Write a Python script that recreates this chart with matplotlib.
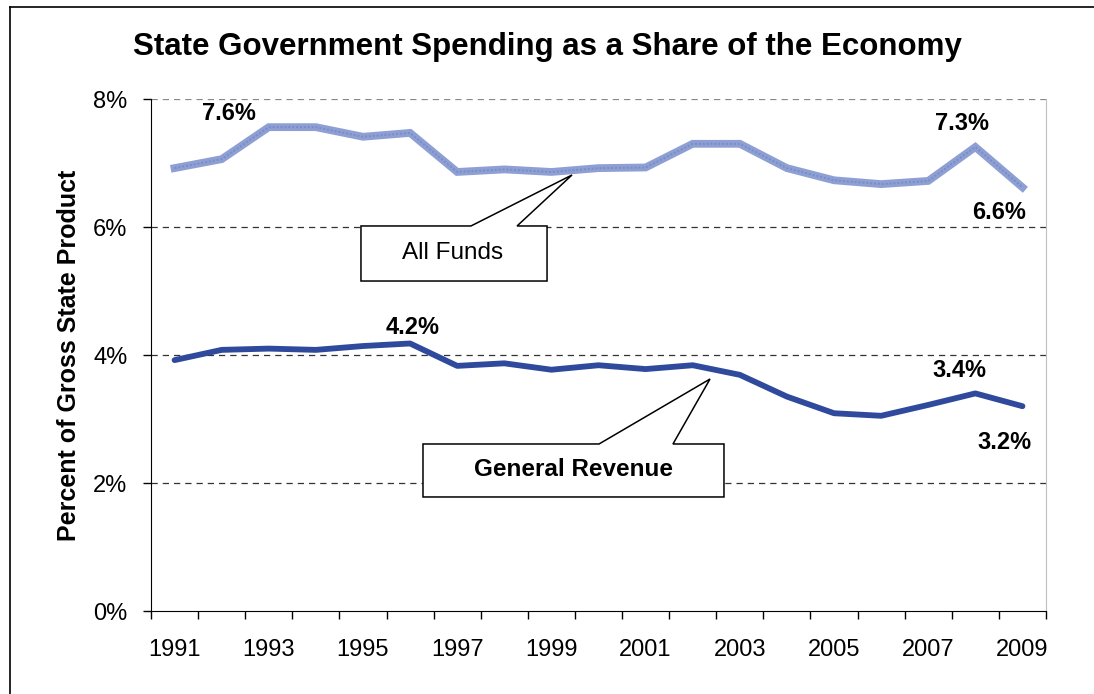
import matplotlib
matplotlib.use("Agg")
import matplotlib.pyplot as plt
from matplotlib.patches import Polygon
from matplotlib.lines import Line2D

# values (percent of gross state product)
years = list(range(1991, 2010))
all_funds = [6.92, 7.06, 7.56, 7.56, 7.41, 7.47, 6.86, 6.90, 6.86, 6.92,
             6.93, 7.30, 7.30, 6.92, 6.73, 6.67, 6.72, 7.25, 6.62]
general_rev = [3.92, 4.08, 4.10, 4.08, 4.14, 4.18, 3.83, 3.87, 3.77, 3.84,
               3.78, 3.84, 3.69, 3.35, 3.09, 3.05, 3.22, 3.40, 3.20]
y_ticks = [0, 2, 4, 6, 8]

# point labels: (series, year, text, dx px, dy px)
point_labels = [
    ("af", 1993, "7.6%", -40, 14),
    ("af", 2008, "7.3%", -13, 24),
    ("af", 2009, "6.6%", -23, -25),
    ("gr", 1996, "4.2%", 3, 16),
    ("gr", 2008, "3.4%", -16, 23),
    ("gr", 2009, "3.2%", -18, -36),
]

plt.rcParams["font.family"] = ["Liberation Sans", "DejaVu Sans"]

fig = plt.figure(figsize=(10.94, 6.94), dpi=100)
ax = fig.add_axes([151 / 1094, 83 / 694, 895 / 1094, 512 / 694])

x = list(range(len(years)))
ax.plot(x, all_funds, color="#8d9fd3", lw=5.6, solid_joinstyle="miter", zorder=3)
ax.plot(x, all_funds, color="#6b80c2", lw=1.4, ls=(0, (1, 1)), zorder=3, alpha=0.6)
ax.plot(x, general_rev, color="#2f4a9c", lw=4.2, solid_capstyle="round", zorder=3)

ax.set_xlim(-0.5, len(years) - 0.5)
ax.set_ylim(0, 8)
ax.set_yticks(y_ticks)
ax.set_yticklabels([f"{v}%" for v in y_ticks], fontsize=17)
ax.set_xticks([i - 0.5 for i in range(len(years) + 1)])
ax.set_xticklabels([])
ax.set_xticks(x, minor=True)
ax.set_xticklabels([str(y) if (y - 1991) % 2 == 0 else "" for y in years],
                   minor=True, fontsize=17)
ax.tick_params(axis="x", which="major", length=6, width=1, direction="out")
ax.tick_params(axis="x", which="minor", length=0, pad=20)
ax.tick_params(axis="y", length=6, width=1, pad=11)

for v in y_ticks[1:]:
    ax.axhline(v, color="#333333" if v < 8 else "#888888", lw=0.9,
               ls=(0, (5, 4)), zorder=1)

ax.spines["top"].set_visible(False)
ax.spines["right"].set_color("#c0c0c0")
ax.spines["left"].set_color("black")
ax.spines["bottom"].set_color("black")

ax.set_ylabel("Percent of Gross State Product", fontsize=18, fontweight="bold",
              labelpad=9)
fig.text(0.5, 0.932, "State Government Spending as a Share of the Economy",
         ha="center", va="center", fontsize=22.5, fontweight="bold")

series = {"af": all_funds, "gr": general_rev}
for key, yr, txt, dx, dy in point_labels:
    i = years.index(yr)
    ax.annotate(txt, (i, series[key][i]), xytext=(dx * 0.72, dy * 0.72),
                textcoords="offset points", ha="center", va="center",
                fontsize=17, fontweight="bold", zorder=5)


def callout(x0, x1, y0, y1, b0, b1, tip, text, weight, tx, ty):
    verts = [(x0, y0), (x0, y1), (b0, y1), tip, (b1, y1), (x1, y1), (x1, y0)]
    ax.add_patch(Polygon(verts, closed=True, transform=ax.transAxes,
                         facecolor="white", edgecolor="black", lw=1.1, zorder=4))
    ax.text(tx, ty, text, transform=ax.transAxes, ha="center", va="center",
            fontsize=17.5, fontweight=weight, zorder=5)


callout(0.2346, 0.4425, 0.6445, 0.752, 0.3575, 0.409, (0.4704, 0.8516),
        "All Funds", "normal", 0.3374, 0.699)
callout(0.3039, 0.6402, 0.2227, 0.3262, 0.5006, 0.5832, (0.6246, 0.4531),
        "General Revenue", "bold", 0.4726, 0.2754)

# outer chart border (left and top edges visible)
fig.add_artist(Line2D([10 / 1094, 10 / 1094], [0, 1 - 7 / 694], color="black", lw=1.2))
fig.add_artist(Line2D([10 / 1094, 1], [1 - 7 / 694, 1 - 7 / 694], color="black", lw=1.2))

fig.savefig("out.png", dpi=100)
